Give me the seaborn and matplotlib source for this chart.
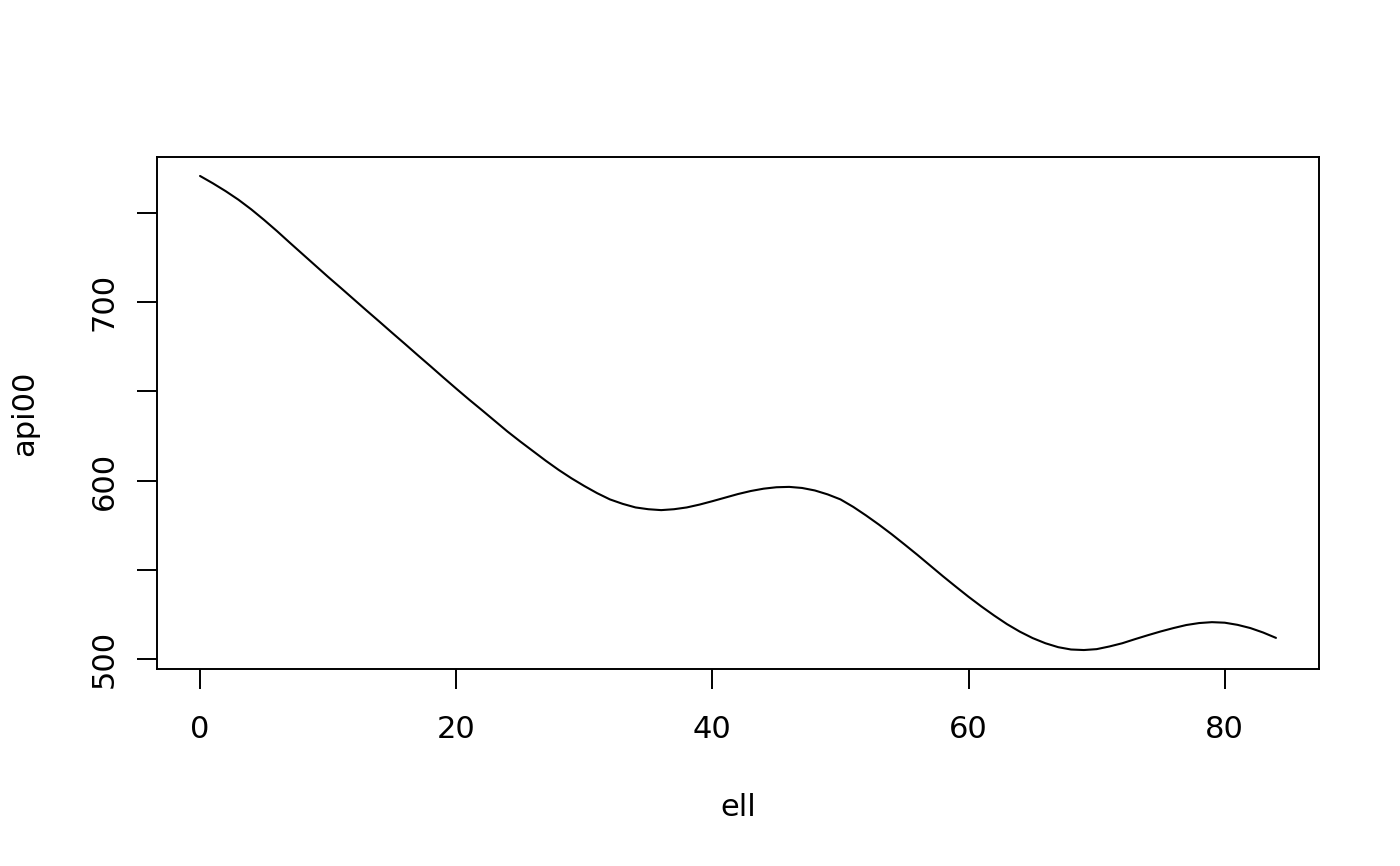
import matplotlib
matplotlib.use("Agg")
import matplotlib.pyplot as plt
import seaborn as sns
import pandas as pd

# data (smoothed curve of api00 vs ell)
ell = list(range(0, 85))
api00 = [770.5, 766.4, 762.0, 757.2, 751.8, 745.9, 739.7, 733.2, 726.8, 720.4,
         714.0, 707.8, 701.5, 695.2, 689.0, 682.7, 676.5, 670.2, 664.0, 657.7,
         651.5, 645.4, 639.5, 633.5, 627.5, 621.9, 616.5, 611.1, 606.0, 601.3,
         597.0, 593.0, 589.5, 587.0, 585.0, 584.0, 583.5, 584.0, 585.0, 586.6,
         588.5, 590.5, 592.5, 594.2, 595.5, 596.3, 596.5, 595.9, 594.5, 592.3,
         589.5, 585.3, 580.5, 575.4, 570.0, 564.3, 558.5, 552.5, 546.5, 540.7,
         535.0, 529.6, 524.5, 519.7, 515.5, 511.9, 509.0, 506.8, 505.5, 505.2,
         505.7, 507.2, 509.0, 511.3, 513.5, 515.6, 517.5, 519.2, 520.3, 520.8,
         520.5, 519.3, 517.5, 515.0, 512.0]
x_ticks = [0, 20, 40, 60, 80]
y_ticks = [500, 550, 600, 650, 700, 750]
y_tick_labels = ["500", "", "600", "", "700", ""]

df = pd.DataFrame({"ell": ell, "api00": api00})

sns.set_theme(style="ticks")
plt.rcParams["font.family"] = ["DejaVu Sans"]

fig = plt.figure(figsize=(14, 8.66), dpi=100)
ax = fig.add_axes([157 / 1400, 1 - 669 / 866, (1319 - 157) / 1400, (669 - 157) / 866])

sns.lineplot(data=df, x="ell", y="api00", ax=ax, color="black", linewidth=1.5)
for ln in ax.lines:
    ln.set_solid_joinstyle("round")

xmin, xmax = min(ell), max(ell)
ymin, ymax = min(api00), max(api00)
dx = (xmax - xmin) * 0.04
dy = (ymax - ymin) * 0.04
ax.set_xlim(xmin - dx, xmax + dx)
ax.set_ylim(ymin - dy, ymax + dy)

ax.set_xticks(x_ticks)
ax.set_xticklabels([str(v) for v in x_ticks])
ax.set_yticks(y_ticks)
ax.set_yticklabels(y_tick_labels, rotation=90, va="center")

for side in ["top", "right", "bottom", "left"]:
    ax.spines[side].set_visible(True)
    ax.spines[side].set_color("black")
    ax.spines[side].set_linewidth(1.4)

ax.tick_params(axis="both", direction="out", length=14.5, width=1.4,
               color="black", labelsize=22, labelcolor="black")
ax.tick_params(axis="x", pad=18.5)
ax.tick_params(axis="y", pad=13)

ax.set_xlabel("ell", fontsize=22, color="black")
ax.set_ylabel("api00", fontsize=22, color="black")
ax.xaxis.label.set_va("center")
ax.yaxis.label.set_va("center")
ax.xaxis.set_label_coords(0.5, -(808 - 669) / 512)
ax.yaxis.set_label_coords(-(157 - 25) / 1162, 0.5)
ax.grid(False)
ax.set_facecolor("white")
fig.patch.set_facecolor("white")

fig.savefig("out.png", dpi=100, facecolor="white")
